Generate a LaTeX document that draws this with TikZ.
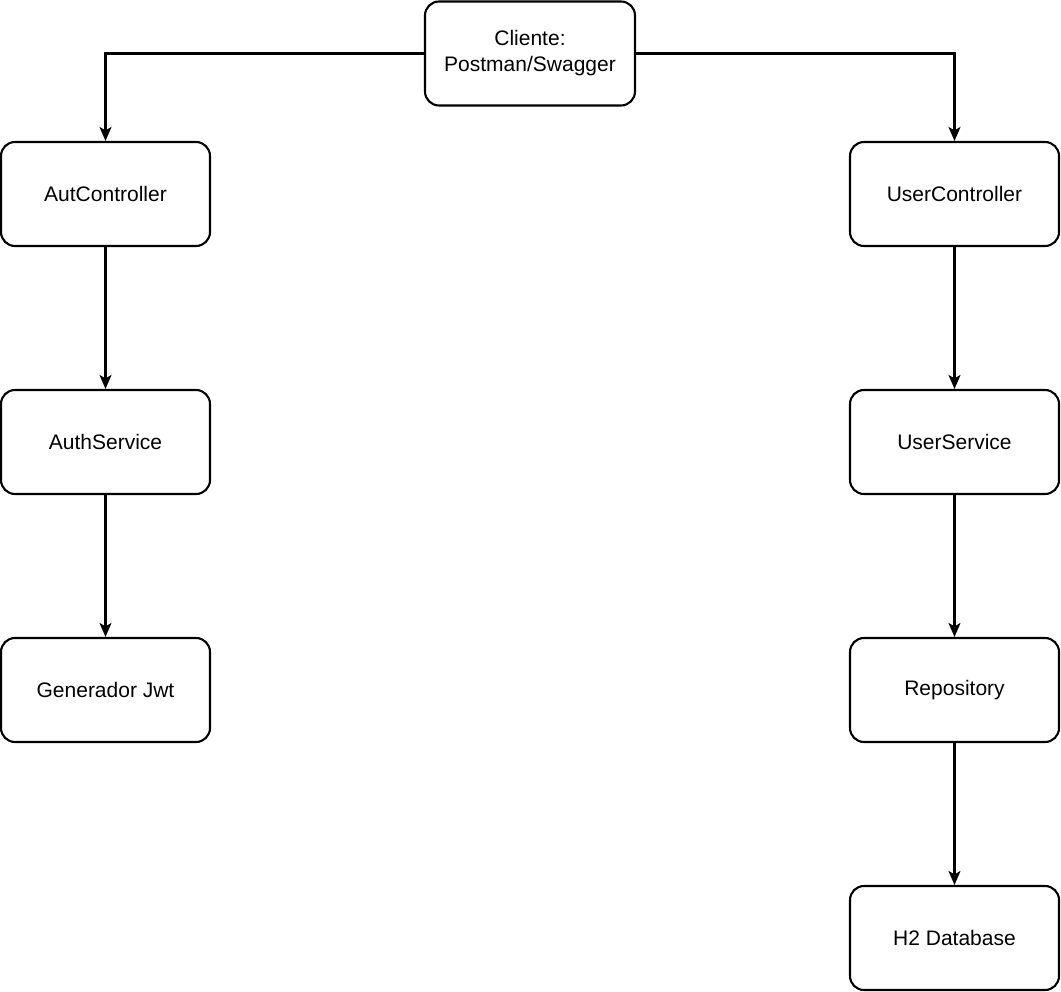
\documentclass[tikz,border=0pt]{standalone}
\usepackage{fontspec}
\setmainfont{Liberation Sans}
\usetikzlibrary{arrows.meta}
\begin{document}
\begin{tikzpicture}[x=1pt,y=-1pt,
  box/.style={draw=black, line width=2.1pt, rounded corners=14pt, fill=white,
    minimum width=209pt, minimum height=104pt, inner sep=0pt, align=center,
    font=\fontsize{21}{26}\selectfont},
  link/.style={draw=black, line width=2.1pt, -{Stealth[length=14pt,width=12pt,inset=3.5pt]}}]
  \useasboundingbox (0,0) rectangle (1061,992);
  % client
  \node[box, minimum width=210pt] (cli) at (530,53.5) {Cliente:\\Postman/Swagger};
  % authentication branch
  \node[box] (actl) at (105.5,194) {AutController};
  \node[box] (asrv) at (105.5,442) {AuthService};
  \node[box] (jwt)  at (105.5,690) {Generador Jwt};
  % user branch
  \node[box] (uctl) at (954.5,194) {UserController};
  \node[box] (usrv) at (954.5,442) {UserService};
  \node[box] (repo) at (954.5,690) {Repository};
  \node[box] (db)   at (954.5,938) {H2 Database};
  % connectors
  \draw[link] (cli.west) -| (actl.north);
  \draw[link] (cli.east) -| (uctl.north);
  \draw[link] (actl) -- (asrv);
  \draw[link] (asrv) -- (jwt);
  \draw[link] (uctl) -- (usrv);
  \draw[link] (usrv) -- (repo);
  \draw[link] (repo) -- (db);
\end{tikzpicture}
\end{document}
